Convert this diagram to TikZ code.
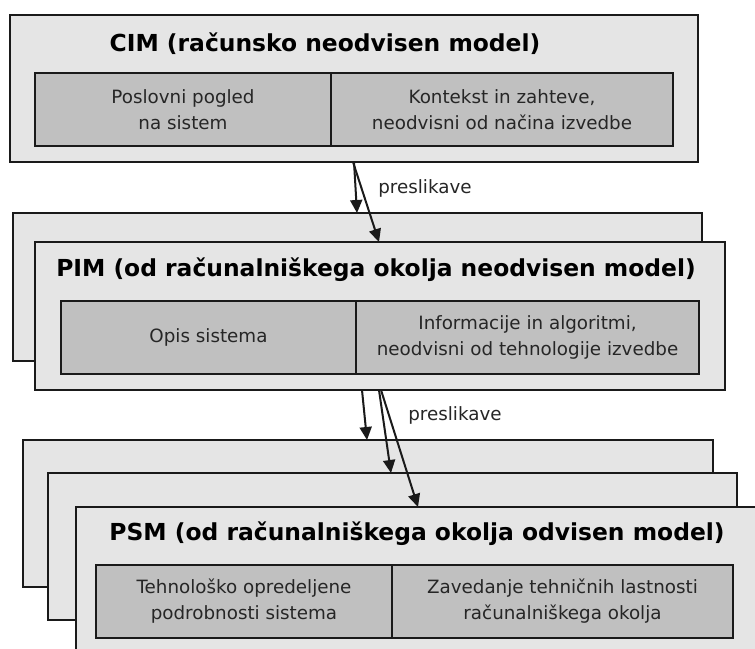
\documentclass[tikz,border=0pt]{standalone}
\usepackage{fontspec}
\setmainfont{DejaVu Sans}
\usetikzlibrary{arrows.meta,calc}
\definecolor{outerfill}{HTML}{E5E5E5}
\definecolor{innerfill}{HTML}{C0C0C0}
\definecolor{edgecol}{HTML}{1A1A1A}
\definecolor{txtcol}{HTML}{262626}
\tikzset{
  layer/.style={draw=edgecol, fill=outerfill, line width=2pt, anchor=north west,
    inner sep=0pt, outer sep=0pt},
  cell/.style={draw=edgecol, fill=innerfill, line width=2pt, anchor=north west,
    inner sep=0pt, outer sep=0pt, minimum height=73pt, align=center, text=txtcol,
    font=\fontsize{18.3}{26}\selectfont},
  title/.style={inner sep=0pt, font=\fontsize{23.4}{26}\selectfont\bfseries, text=black},
  lbl/.style={inner sep=0pt, font=\fontsize{18.3}{26}\selectfont, text=txtcol},
  map/.style={draw=edgecol, line width=2pt, -{Triangle[length=13pt,width=12pt]}}
}
\begin{document}
\begin{tikzpicture}[x=1pt,y=-1pt]
\useasboundingbox (0,0) rectangle (755,648);
\clip (0,0) rectangle (755,648);
\fill[white] (0,0) rectangle (755,648);

% CIM
\node[layer, minimum width=688pt, minimum height=147pt] (cim) at (10,15) {};
\node[title] (cimt) at (325,44) {CIM (računsko neodvisen model)};
\node[cell, minimum width=296pt] (cim1) at (35,73) {Poslovni pogled\\na sistem};
\node[cell, minimum width=342pt] (cim2) at (331,73) {Kontekst in zahteve,\\neodvisni od načina izvedbe};

% PIM
\node[layer, minimum width=689.5pt, minimum height=148pt] (pimb) at (12.5,213) {};
\node[layer, minimum width=690pt, minimum height=148pt] (pimf) at (35,242) {};
\node[title] (pimt) at (376,270) {PIM (od računalniškega okolja neodvisen model)};
\node[cell, minimum width=295pt] (pim1) at (61,301) {Opis sistema};
\node[cell, minimum width=343pt] (pim2) at (356,301) {Informacije in algoritmi,\\neodvisni od tehnologije izvedbe};

% PSM
\node[layer, minimum width=690pt, minimum height=147pt] (psm1) at (23,440) {};
\node[layer, minimum width=689pt, minimum height=147pt] (psm2) at (48,473) {};
\node[layer, minimum width=690pt, minimum height=147pt] (psm3) at (76,507) {};
\node[title] (psmt) at (417,534) {PSM (od računalniškega okolja odvisen model)};
\node[cell, minimum width=296pt] (psm31) at (96,565) {Tehnološko opredeljene\\podrobnosti sistema};
\node[cell, minimum width=341pt] (psm32) at (392,565) {Zavedanje tehničnih lastnosti\\računalniškega okolja};

% mapping labels
\node[lbl] (l1) at (425,188) {preslikave};
\node[lbl] (l2) at (455,415) {preslikave};

% connectors
\draw[map] ($(cim.south west)+(344,0)$) -- ($(pimb.north west)+(344.5,0)$);
\draw[map] ($(cim.south west)+(343,0)$) -- ($(pimf.north west)+(344,0)$);
\draw[map] ($(pimf.south west)+(327,0)$) -- ($(psm1.north west)+(344,0)$);
\draw[map] ($(pimf.south west)+(344,0)$) -- ($(psm2.north west)+(343,0)$);
\draw[map] ($(pimf.south west)+(346,0)$) -- ($(psm3.north west)+(342,0)$);
\end{tikzpicture}
\end{document}
